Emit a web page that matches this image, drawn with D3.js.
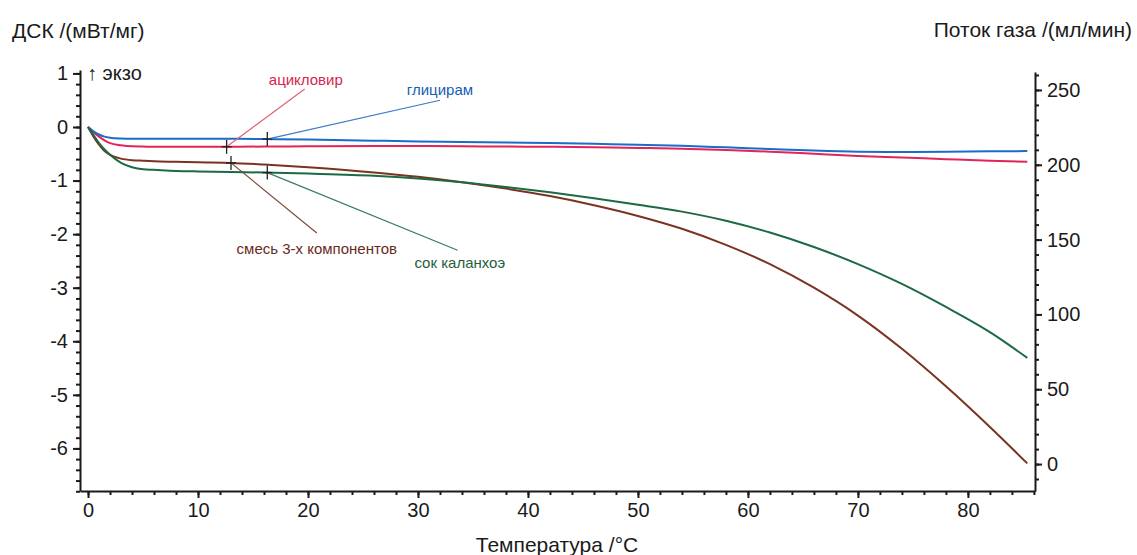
<!DOCTYPE html>
<html lang="ru">
<head>
  <meta charset="UTF-8">
  <title>ДСК</title>
  <script src="https://d3js.org/d3.v7.min.js"></script>
</head>
<body style="margin: 0; padding: 0; overflow: hidden; background: #fff;">
  <svg id="chart"></svg>

  <script>
    // температура, °C
    const temps = [0, 0.5, 1, 1.5, 2, 3, 4, 5, 6, 8, 10, 13, 16, 20, 26, 30, 34, 38, 42, 46, 50, 54, 58, 62, 66, 70, 74, 78, 82, 85.4];

    // ДСК, мВт/мг
    const glitsiram = [0, -0.08, -0.14, -0.18, -0.2, -0.215, -0.22, -0.22, -0.22, -0.22, -0.22, -0.22, -0.225, -0.235, -0.255, -0.27, -0.28, -0.29, -0.3, -0.315, -0.33, -0.35, -0.38, -0.41, -0.44, -0.46, -0.465, -0.46, -0.455, -0.45];
    const atsiklovir = [0, -0.1, -0.18, -0.25, -0.3, -0.34, -0.36, -0.365, -0.37, -0.37, -0.37, -0.37, -0.365, -0.36, -0.355, -0.355, -0.36, -0.365, -0.37, -0.38, -0.39, -0.405, -0.43, -0.46, -0.5, -0.54, -0.57, -0.6, -0.63, -0.65];
    const smes = [0, -0.18, -0.33, -0.45, -0.52, -0.59, -0.62, -0.63, -0.64, -0.65, -0.66, -0.67, -0.7, -0.75, -0.85, -0.93, -1.03, -1.15, -1.29, -1.46, -1.66, -1.9, -2.2, -2.56, -3.0, -3.52, -4.14, -4.84, -5.6, -6.28];
    const sok = [0, -0.15, -0.3, -0.42, -0.52, -0.67, -0.75, -0.79, -0.8, -0.82, -0.83, -0.84, -0.85, -0.87, -0.91, -0.96, -1.03, -1.12, -1.22, -1.33, -1.45, -1.58, -1.75, -1.97, -2.24, -2.56, -2.93, -3.36, -3.83, -4.31];

    const xTicks = [0, 10, 20, 30, 40, 50, 60, 70, 80];
    const yTicks = [1, 0, -1, -2, -3, -4, -5, -6];
    const flowTicks = [0, 50, 100, 150, 200, 250];

    // подписи: имя, точка метки (°C), конец выноски, позиция текста
    const labelNames = ["ацикловир", "глицирам", "смесь 3-х компонентов", "сок каланхоэ"];
    const markerTemps = [12.6, 16.3, 13.0, 16.3];
    const leaderEnds = [[19.7, 0.71], [32, 0.5], [20.8, -1.98], [33.6, -2.3]];
    const labelPos = [[19.8, 0.79], [32, 0.6], [20.8, -2.37], [33.8, -2.63]];

    const series = [
      { name: "ацикловир", values: atsiklovir, color: "#e3245a", label: "#d6254d", leader: "#e06070" },
      { name: "глицирам", values: glitsiram, color: "#1b6cc8", label: "#1660b2", leader: "#3a7cc8" },
      { name: "смесь 3-х компонентов", values: smes, color: "#7a3320", label: "#6a2a1c", leader: "#7e4a3a" },
      { name: "сок каланхоэ", values: sok, color: "#1c6a44", label: "#1f5e3e", leader: "#3c7a60" }
    ];

    const W = 1137, H = 555;
    const font = "'Liberation Sans', Arial, sans-serif";

    const svg = d3.select("#chart")
      .attr("width", W)
      .attr("height", H)
      .style("font-family", font);

    const x = d3.scaleLinear().domain([-0.73, 86.1]).range([80, 1035]);
    const y = d3.scaleLinear().domain([-6.795, 1.064]).range([491, 70]);
    const yR = d3.scaleLinear().domain([-18, 262]).range([491, 72]);

    // оси
    const axisColor = "#1a1a1a";

    function styleAxis(g) {
      g.select(".domain").attr("stroke", axisColor).attr("stroke-width", 2);
      g.selectAll(".tick line").attr("stroke", axisColor).attr("stroke-width", 2);
      g.selectAll("text").attr("fill", "#1a1a1a").style("font-family", font);
    }

    // нижняя ось - мелкие деления
    svg.append("g")
      .attr("transform", "translate(0,491)")
      .call(d3.axisBottom(x).tickValues(d3.range(0, 87, 2)).tickSize(4).tickFormat(""))
      .call(styleAxis)
      .call(g => g.select(".domain").remove());

    svg.append("g")
      .attr("transform", "translate(0,491)")
      .call(d3.axisBottom(x).tickValues(xTicks).tickSize(7).tickSizeOuter(0).tickPadding(5))
      .call(styleAxis)
      .call(g => g.selectAll("text").attr("font-size", 20));

    // левая ось
    svg.append("g")
      .attr("transform", "translate(80,0)")
      .call(d3.axisLeft(y).tickValues(d3.range(-6.8, 1.01, 0.2)).tickSize(4).tickFormat(""))
      .call(styleAxis)
      .call(g => g.select(".domain").remove());

    svg.append("g")
      .attr("transform", "translate(80,0)")
      .call(d3.axisLeft(y).tickValues(yTicks).tickSize(7).tickSizeOuter(0).tickPadding(5))
      .call(styleAxis)
      .call(g => g.selectAll("text").attr("font-size", 20).text(d => d < 0 ? "-" + Math.abs(d) : d));

    // правая ось
    svg.append("g")
      .attr("transform", "translate(1035,0)")
      .call(d3.axisRight(yR).tickValues(d3.range(-10, 261, 10)).tickSize(4).tickFormat(""))
      .call(styleAxis)
      .call(g => g.select(".domain").remove());

    svg.append("g")
      .attr("transform", "translate(1035,0)")
      .call(d3.axisRight(yR).tickValues(flowTicks).tickSize(7).tickSizeOuter(0).tickPadding(5))
      .call(styleAxis)
      .call(g => g.selectAll("text").attr("font-size", 20));

    // заголовки осей
    svg.append("text")
      .attr("x", 12).attr("y", 38)
      .attr("font-size", 21).attr("fill", "#1a1a1a")
      .text("ДСК /(мВт/мг)");

    svg.append("text")
      .attr("x", 1132).attr("y", 37)
      .attr("text-anchor", "end")
      .attr("font-size", 21).attr("fill", "#1a1a1a")
      .text("Поток газа /(мл/мин)");

    svg.append("text")
      .attr("x", 557).attr("y", 552)
      .attr("text-anchor", "middle")
      .attr("font-size", 21).attr("fill", "#1a1a1a")
      .text("Температура /°C");

    svg.append("text")
      .attr("x", 87).attr("y", 80)
      .attr("font-size", 20).attr("fill", "#1a1a1a")
      .text("↑ экзо");

    // кривые
    const line = d3.line()
      .x((d, i) => x(temps[i]))
      .y(d => y(d))
      .curve(d3.curveMonotoneX);

    svg.selectAll(".curve")
      .data(series)
      .enter()
      .append("path")
      .attr("class", "curve")
      .attr("fill", "none")
      .attr("stroke", d => d.color)
      .attr("stroke-width", 2)
      .attr("d", d => line(d.values));

    // значение серии в точке t (линейная интерполяция)
    function valueAt(values, t) {
      const i = d3.bisectRight(temps, t) - 1;
      const k = (t - temps[i]) / (temps[i + 1] - temps[i]);
      return values[i] + k * (values[i + 1] - values[i]);
    }

    // выноски, метки и подписи
    series.forEach((s, i) => {
      const mx = x(markerTemps[i]);
      const my = y(valueAt(s.values, markerTemps[i]));

      svg.append("line")
        .attr("x1", mx).attr("y1", my)
        .attr("x2", x(leaderEnds[i][0])).attr("y2", y(leaderEnds[i][1]))
        .attr("stroke", s.leader)
        .attr("stroke-width", 1.2);

      svg.append("line")
        .attr("x1", mx - 5).attr("x2", mx + 5)
        .attr("y1", my).attr("y2", my)
        .attr("stroke", "#222").attr("stroke-width", 1.3);
      svg.append("line")
        .attr("x1", mx).attr("x2", mx)
        .attr("y1", my - 7).attr("y2", my + 7)
        .attr("stroke", "#222").attr("stroke-width", 1.3);

      svg.append("text")
        .attr("x", x(labelPos[i][0]))
        .attr("y", y(labelPos[i][1]))
        .attr("text-anchor", "middle")
        .attr("font-size", 15)
        .attr("fill", s.label)
        .text(labelNames[i]);
    });
  </script>
</body>
</html>
